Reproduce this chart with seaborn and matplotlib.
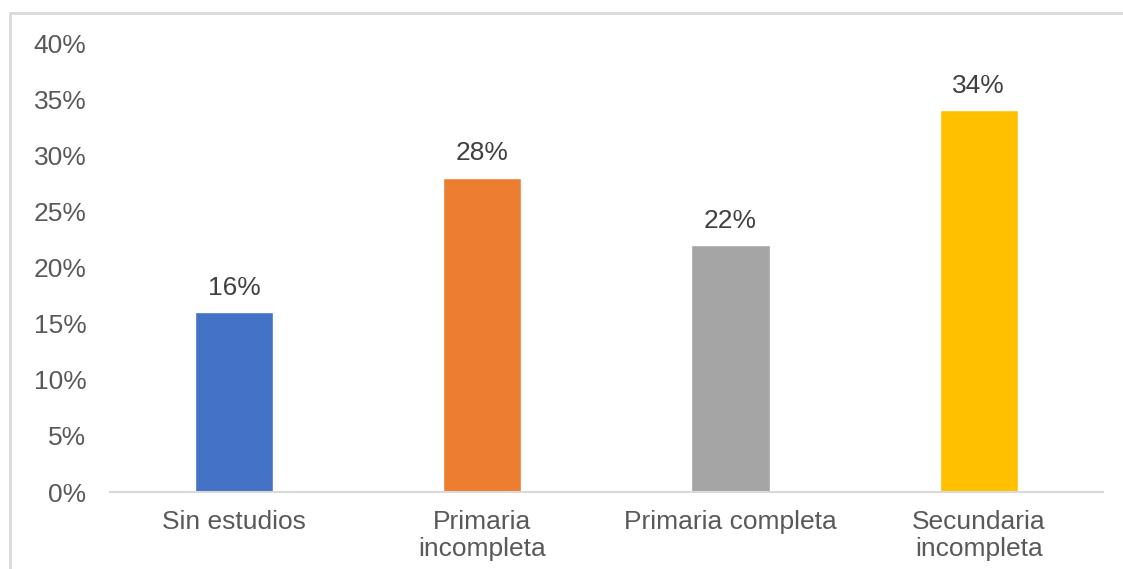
import matplotlib
matplotlib.use("Agg")
import matplotlib.pyplot as plt
import seaborn as sns
import pandas as pd
from matplotlib.lines import Line2D
from matplotlib.ticker import FuncFormatter

# Education level shares
categories = ["Sin estudios", "Primaria\nincompleta", "Primaria completa", "Secundaria\nincompleta"]
values = [16, 28, 22, 34]
colors = ["#4472C4", "#ED7D31", "#A5A5A5", "#FFC000"]
yticks = [0, 5, 10, 15, 20, 25, 30, 35, 40]

sns.set_theme(style="white")
plt.rcParams["font.family"] = ["Liberation Sans", "DejaVu Sans"]

df = pd.DataFrame({"nivel": categories, "pct": values})

fig = plt.figure(figsize=(11.23, 5.69), dpi=100)
ax = fig.add_axes([0.098, 0.1353, 0.884, 0.7891])

sns.barplot(data=df, x="nivel", y="pct", hue="nivel", palette=colors,
            width=0.315, legend=False, ax=ax, saturation=1)

ax.set_xlim(-0.5, 3.5)
ax.set_ylim(0, 40)
ax.set_yticks(yticks)
ax.yaxis.set_major_formatter(FuncFormatter(lambda v, _: f"{v:.0f}%"))
ax.set_xlabel("")
ax.set_ylabel("")

for s in ["top", "right", "left"]:
    ax.spines[s].set_visible(False)
ax.spines["bottom"].set_color("#D9D9D9")
ax.spines["bottom"].set_linewidth(1.5)

ax.tick_params(axis="y", length=0, pad=17, labelsize=19, labelcolor="#595959")
ax.tick_params(axis="x", length=0, pad=13, labelsize=19, labelcolor="#595959")
for lbl in ax.get_xticklabels():
    lbl.set_linespacing(1.15)

for cont in ax.containers:
    ax.bar_label(cont, fmt="%.0f%%", padding=9, fontsize=19, color="#404040")

# Chart-area frame (top and left edges)
fig.add_artist(Line2D([10 / 1123, 10 / 1123], [0, 1 - 13 / 569],
                      transform=fig.transFigure, color="#D9D9D9", lw=2))
fig.add_artist(Line2D([10 / 1123, 1], [1 - 13 / 569, 1 - 13 / 569],
                      transform=fig.transFigure, color="#D9D9D9", lw=2))

fig.savefig("out.png", dpi=100, facecolor="white")
